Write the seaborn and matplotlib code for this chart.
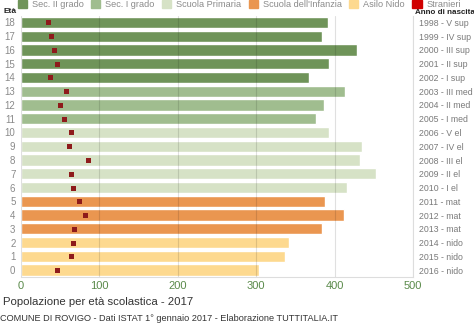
import matplotlib
matplotlib.use("Agg")
import matplotlib.pyplot as plt
import matplotlib.patches as mpatches
import seaborn as sns
import pandas as pd

# Population by school age, Rovigo, 1 January 2017
ages = [18, 17, 16, 15, 14, 13, 12, 11, 10, 9, 8, 7, 6, 5, 4, 3, 2, 1, 0]
totals = [391, 384, 428, 393, 367, 413, 386, 376, 393, 435, 433, 453, 416,
          388, 412, 384, 342, 337, 304]
foreigners = [35, 38, 42, 46, 37, 58, 50, 55, 64, 61, 86, 64, 66, 74, 82, 68,
              66, 64, 46]
school = ["Sec. II grado"] * 5 + ["Sec. I grado"] * 3 + ["Scuola Primaria"] * 5 \
    + ["Scuola dell'Infanzia"] * 3 + ["Asilo Nido"] * 3
birth_labels = ["1998 - V sup", "1999 - IV sup", "2000 - III sup", "2001 - II sup",
                "2002 - I sup", "2003 - III med", "2004 - II med", "2005 - I med",
                "2006 - V el", "2007 - IV el", "2008 - III el", "2009 - II el",
                "2010 - I el", "2011 - mat", "2012 - mat", "2013 - mat",
                "2014 - nido", "2015 - nido", "2016 - nido"]

levels = ["Sec. II grado", "Sec. I grado", "Scuola Primaria",
          "Scuola dell'Infanzia", "Asilo Nido"]
palette = {"Sec. II grado": "#6f9459", "Sec. I grado": "#a0bd8f",
           "Scuola Primaria": "#d6e2c6", "Scuola dell'Infanzia": "#ea9650",
           "Asilo Nido": "#fdd98f"}

df = pd.DataFrame({"age": [str(a) for a in ages], "totale": totals,
                   "stranieri": foreigners, "scuola": school})
order = [str(a) for a in ages]

sns.set_theme(style="white")
plt.rcParams["font.family"] = ["Liberation Sans", "DejaVu Sans"]

fig = plt.figure(figsize=(4.74, 3.26), dpi=100)
ax = fig.add_axes([21 / 474, 49 / 326, 392 / 474, 261.5 / 326])

sns.barplot(data=df, x="totale", y="age", hue="scuola", order=order,
            hue_order=levels, palette=palette, dodge=False, width=0.82,
            orient="h", legend=False, saturation=1, ax=ax, zorder=1)
sns.stripplot(data=df, x="stranieri", y="age", order=order, orient="h",
              jitter=False, marker="s", size=3.6, color="#8e1b1b",
              linewidth=0, ax=ax, zorder=3)

ax.set_xlim(0, 500)
ax.set_ylim(18.5, -0.5)
ax.set_xticks([0, 100, 200, 300, 400, 500])
ax.xaxis.grid(True, color="#000000", alpha=0.12, linewidth=0.8, zorder=2)
ax.set_axisbelow(False)
ax.set_xlabel("")
ax.set_ylabel("")
ax.tick_params(axis="x", colors="#5a8a4a", labelsize=8, length=0, pad=3)
ax.tick_params(axis="y", colors="#8a8a8a", labelsize=7, length=0, pad=4)
for s in ["top", "left"]:
    ax.spines[s].set_visible(False)
for s in ["bottom", "right"]:
    ax.spines[s].set_color("#dddddd")
    ax.spines[s].set_linewidth(0.8)

# birth year / class labels on the right
ax2 = ax.twinx()
ax2.set_ylim(ax.get_ylim())
ax2.set_yticks(range(len(birth_labels)))
ax2.set_yticklabels(birth_labels)
ax2.tick_params(axis="y", colors="#7a7a7a", labelsize=6.3, length=0, pad=4)
for s in ax2.spines.values():
    s.set_visible(False)
ax2.grid(False)

fig.text(4 / 474, 1 - 13 / 326, "Età", fontsize=6, fontweight="bold",
         color="#222222", va="baseline")
fig.text(415 / 474, 1 - 14 / 326, "Anno di nascita", fontsize=5.8,
         fontweight="bold", color="#222222", va="baseline")

# legend row
handles = [mpatches.Patch(color=palette[l], label=l) for l in levels]
handles.append(mpatches.Patch(color="#d00000", label="Stranieri"))
fig.legend(handles=handles, loc="upper left", bbox_to_anchor=(14 / 474, 1.012),
           ncol=6, frameon=False, fontsize=6.6, handlelength=1.0,
           handleheight=1.0, handletextpad=0.55, columnspacing=0.8,
           labelcolor="#8a8a8a", borderaxespad=0)

fig.text(3 / 474, 1 - 305 / 326, "Popolazione per età scolastica - 2017",
         fontsize=8.2, color="#333333", va="baseline")
fig.text(0, 1 - 321 / 326,
         "COMUNE DI ROVIGO - Dati ISTAT 1° gennaio 2017 - Elaborazione TUTTITALIA.IT",
         fontsize=6.6, color="#333333", va="baseline")

fig.savefig("out.png", dpi=100)
